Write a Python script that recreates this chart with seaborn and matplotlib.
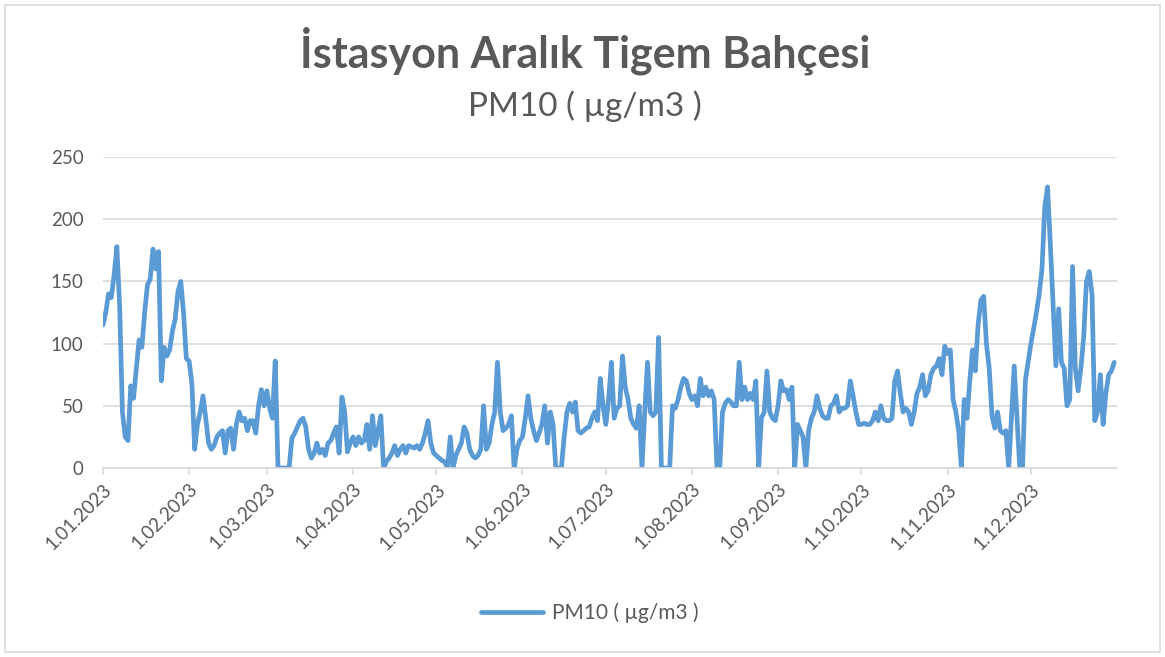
import pandas as pd
import seaborn as sns
from matplotlib import pyplot as plt
from matplotlib.patches import Rectangle

# daily PM10 values, 2023, month by month
jan = [115, 125, 140, 137, 155, 178, 130, 45, 25, 22, 66, 56, 80, 103, 97, 125,
       147, 152, 176, 160, 174, 70, 97, 90, 95, 110, 120, 142, 150, 125, 88]
feb = [86, 68, 15, 35, 45, 58, 40, 20, 15, 18, 25, 28, 30, 12, 30, 32,
       15, 35, 45, 38, 40, 30, 38, 38, 28, 50, 63, 50]
mar = [62, 48, 40, 86, 0, 0, 0, 0, 0, 24, 28, 33, 38, 40, 33, 15,
       8, 12, 20, 12, 15, 10, 20, 22, 28, 33, 12, 57, 45, 13, 20]
apr = [25, 18, 25, 20, 22, 35, 15, 42, 18, 30, 42, 0, 5, 8, 12, 18,
       10, 15, 18, 12, 18, 17, 16, 18, 15, 20, 28, 38, 20, 12]
may = [10, 8, 6, 5, 0, 25, 0, 10, 15, 20, 33, 28, 15, 10, 8, 10,
       15, 50, 15, 20, 35, 45, 85, 45, 30, 32, 35, 42, 0, 15, 22]
jun = [25, 40, 58, 40, 30, 22, 28, 35, 50, 20, 45, 35, 0, 0, 0, 25,
       45, 52, 45, 53, 30, 28, 30, 32, 33, 40, 45, 38, 72, 50]
jul = [35, 55, 85, 40, 48, 50, 90, 65, 55, 40, 35, 32, 50, 0, 45, 85,
       45, 42, 45, 105, 0, 0, 0, 0, 50, 48, 55, 65, 72, 70, 60]
aug = [55, 58, 50, 72, 58, 65, 58, 62, 55, 0, 0, 45, 52, 55, 53, 50,
       50, 85, 55, 65, 55, 60, 55, 70, 0, 40, 45, 78, 45, 40, 38]
sep = [50, 70, 62, 63, 55, 65, 0, 35, 30, 25, 0, 30, 40, 45, 58, 48,
       42, 40, 40, 50, 52, 58, 45, 48, 48, 50, 70, 58, 45, 35]
oct_ = [35, 36, 35, 35, 38, 45, 38, 50, 40, 38, 38, 40, 70, 78, 60, 45,
        48, 45, 35, 45, 60, 65, 75, 58, 62, 75, 80, 82, 88, 75, 98]
nov = [92, 95, 55, 45, 30, 0, 55, 40, 70, 95, 78, 115, 135, 138, 100, 80,
       42, 32, 45, 30, 28, 30, 0, 40, 82, 40, 0, 0, 70, 85]
dec = [100, 112, 125, 140, 160, 210, 226, 180, 130, 82, 128, 85, 80, 50, 55, 162,
       80, 62, 80, 105, 150, 158, 140, 38, 45, 75, 35, 60, 75, 78, 85]

pm10 = jan + feb + mar + apr + may + jun + jul + aug + sep + oct_ + nov + dec
dates = pd.date_range("2023-01-01", periods=len(pm10), freq="D")
month_starts = pd.date_range("2023-01-01", periods=12, freq="MS")
label = "PM10 ( µg/m3 )"
df = pd.DataFrame({"Tarih": dates, label: pm10})

sns.set_theme(style="white")
plt.rcParams["font.family"] = ["Lato", "DejaVu Sans"]

grey = "#595959"
fig = plt.figure(figsize=(11.65, 6.57), dpi=100)
ax = fig.add_axes([0.0884, 0.2877, 0.8704, 0.4733])

sns.lineplot(data=df, x="Tarih", y=label, ax=ax, color="#5B9BD5",
             linewidth=3.4, label=label, legend=False)

ax.set_ylim(0, 250)
ax.set_yticks(range(0, 251, 50))
ax.set_xticks(month_starts)
ax.set_xticklabels([f"{d.day}.{d.month:02d}.{d.year}" for d in month_starts],
                   rotation=45, ha="right", rotation_mode="anchor")
ax.set_xlim(pd.Timestamp("2023-01-01"), pd.Timestamp("2024-01-01"))

ax.grid(axis="y", color="#D9D9D9", linewidth=1.2)
ax.set_axisbelow(True)
for s in ["top", "right", "left"]:
    ax.spines[s].set_visible(False)
ax.spines["bottom"].set_color("#D9D9D9")
ax.spines["bottom"].set_linewidth(1.2)
ax.tick_params(axis="x", bottom=True, length=5, color="#D9D9D9", width=1.2,
               labelsize=13.5, labelcolor=grey, pad=4)
ax.tick_params(axis="y", left=False, labelsize=13.5, labelcolor=grey, pad=8)
ax.set_xlabel("")
ax.set_ylabel("")

fig.text(0.502, 0.922, "İstasyon Aralık Tigem Bahçesi", ha="center", va="center",
         fontsize=31, fontweight="bold", color=grey)
fig.text(0.502, 0.838, label, ha="center", va="center", fontsize=24, color=grey)

h, l = ax.get_lines()[:1], [label]
fig.legend(h, l, loc="center", bbox_to_anchor=(0.506, 0.067), frameon=False,
           fontsize=15, labelcolor=grey, handlelength=3.0, handletextpad=0.4)

fig.patches.append(Rectangle((0.004, 0.008), 0.992, 0.984, transform=fig.transFigure,
                             fill=False, edgecolor="#D9D9D9", linewidth=1.2))

fig.savefig("out.png", dpi=100)
